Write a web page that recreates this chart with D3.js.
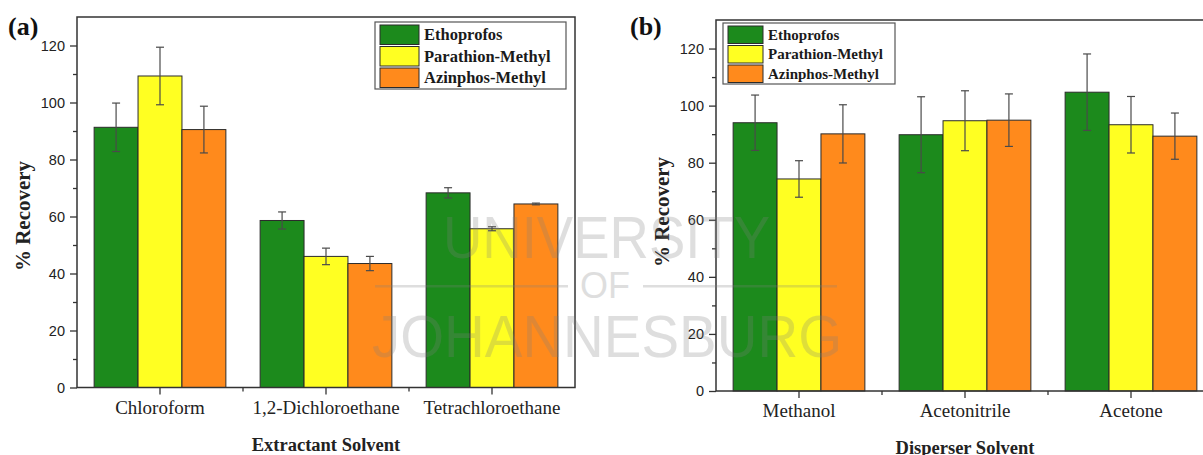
<!DOCTYPE html>
<html>
<head>
<meta charset="utf-8">
<script src="https://cdn.jsdelivr.net/npm/d3@7"></script>
<style>
  body { margin: 0; background: #fff; }
  svg { display: block; }
</style>
</head>
<body>
<div id="chart"></div>
<script>
const seriesNames = ["Ethoprofos", "Parathion-Methyl", "Azinphos-Methyl"];
const seriesColors = ["#1c8a1c", "#ffff22", "#ff8a1c"];

// panel (a)
const extractants = ["Chloroform", "1,2-Dichloroethane", "Tetrachloroethane"];
const extractantMeans = [
  [91.3, 58.6, 68.3],
  [109.3, 46.0, 55.7],
  [90.5, 43.5, 64.4]
];
const extractantErrors = [
  [8.5, 3.0, 1.8],
  [10.1, 2.9, 0.7],
  [8.2, 2.5, 0.3]
];

// panel (b)
const dispersers = ["Methanol", "Acetonitrile", "Acetone"];
const disperserMeans = [
  [94.0, 89.8, 104.7],
  [74.3, 94.7, 93.3],
  [90.1, 94.9, 89.3]
];
const disperserErrors = [
  [9.7, 13.3, 13.4],
  [6.4, 10.5, 9.9],
  [10.2, 9.2, 8.1]
];

const yMajor = [0, 20, 40, 60, 80, 100, 120];
const yMinor = [10, 30, 50, 70, 90, 110];

const svg = d3.select("#chart").append("svg")
  .attr("width", 1203)
  .attr("height", 455);

const serif = "'Liberation Serif', 'Times New Roman', serif";
const sans = "'Liberation Sans', Arial, sans-serif";

function drawPanel(p) {
  const g = svg.append("g");
  const x = d3.scaleBand().domain(p.categories).range([p.left, p.left + 498]);
  const x1 = d3.scaleBand().domain(seriesNames).range([0, x.bandwidth()]).paddingOuter(0.39);
  const y = d3.scaleLinear().domain([0, 130]).range([p.bottom, p.top]);

  // bars
  seriesNames.forEach((s, si) => {
    g.append("g").selectAll("rect")
      .data(p.categories)
      .join("rect")
      .attr("x", (c) => x(c) + x1(s))
      .attr("y", (c, i) => y(p.means[si][i]))
      .attr("width", x1.bandwidth())
      .attr("height", (c, i) => y(0) - y(p.means[si][i]))
      .attr("fill", seriesColors[si])
      .attr("stroke", "#2b2b2b")
      .attr("stroke-width", 1);
  });

  // error bars
  seriesNames.forEach((s, si) => {
    const eb = g.append("g").attr("stroke", "#4a4a4a").attr("stroke-width", 1.2);
    p.categories.forEach((c, i) => {
      const cx = x(c) + x1(s) + x1.bandwidth() / 2;
      const hi = y(p.means[si][i] + p.errors[si][i]);
      const lo = y(p.means[si][i] - p.errors[si][i]);
      eb.append("line").attr("x1", cx).attr("x2", cx).attr("y1", hi).attr("y2", lo);
      eb.append("line").attr("x1", cx - 4).attr("x2", cx + 4).attr("y1", hi).attr("y2", hi);
      eb.append("line").attr("x1", cx - 4).attr("x2", cx + 4).attr("y1", lo).attr("y2", lo);
    });
  });

  // frame
  g.append("rect")
    .attr("x", p.left).attr("y", p.top)
    .attr("width", 498).attr("height", p.bottom - p.top)
    .attr("fill", "none").attr("stroke", "#333").attr("stroke-width", 1.5);

  // y axis
  const yAxis = g.append("g")
    .attr("transform", `translate(${p.left},0)`)
    .call(d3.axisLeft(y).tickValues(yMajor).tickSize(7).tickPadding(5));
  g.append("g")
    .attr("transform", `translate(${p.left},0)`)
    .call(d3.axisLeft(y).tickValues(yMinor).tickSize(4).tickFormat(""))
    .call((a) => a.select(".domain").remove());
  yAxis.select(".domain").remove();
  g.selectAll(".tick line").attr("stroke", "#333").attr("stroke-width", 1.3);
  yAxis.selectAll("text").attr("font-family", sans).attr("font-size", 14.5).attr("fill", "#222");

  // x axis
  const xAxis = g.append("g")
    .attr("transform", `translate(0,${p.bottom})`)
    .call(d3.axisBottom(x).tickSize(7).tickPadding(6));
  xAxis.select(".domain").remove();
  xAxis.selectAll(".tick line").attr("stroke", "#333").attr("stroke-width", 1.3);
  xAxis.selectAll("text").attr("font-family", serif).attr("font-size", 19).attr("fill", "#222");
  g.append("g").selectAll("line")
    .data(p.categories.slice(1))
    .join("line")
    .attr("x1", (c) => x(c)).attr("x2", (c) => x(c))
    .attr("y1", p.bottom).attr("y2", p.bottom + 4)
    .attr("stroke", "#333").attr("stroke-width", 1.3);

  // titles
  g.append("text")
    .attr("x", p.left + 249).attr("y", p.bottom + 63)
    .attr("text-anchor", "middle")
    .attr("font-family", serif).attr("font-weight", "bold").attr("font-size", 18.5)
    .attr("fill", "#222")
    .text(p.xTitle);
  g.append("text")
    .attr("transform", `translate(${p.yTitleX},${p.yTitleY}) rotate(-90)`)
    .attr("text-anchor", "middle")
    .attr("dominant-baseline", "central")
    .attr("font-family", serif).attr("font-weight", "bold").attr("font-size", 21)
    .attr("fill", "#222")
    .text("% Recovery");
  g.append("text")
    .attr("x", p.labelX).attr("y", p.labelY)
    .attr("font-family", serif).attr("font-weight", "bold").attr("font-size", 26)
    .attr("fill", "#111")
    .text(p.label);

  // legend
  const L = p.legend;
  const lg = g.append("g");
  lg.append("rect")
    .attr("x", L.x).attr("y", L.y).attr("width", L.w).attr("height", L.h)
    .attr("fill", "#fff").attr("stroke", "#555").attr("stroke-width", 1.2);
  seriesNames.forEach((s, si) => {
    lg.append("rect")
      .attr("x", L.x + 5).attr("y", L.y + 3 + si * L.step)
      .attr("width", L.sw).attr("height", L.step - 2)
      .attr("fill", seriesColors[si]).attr("stroke", "#2b2b2b").attr("stroke-width", 1);
    lg.append("text")
      .attr("x", L.x + 10 + L.sw).attr("y", L.y + 3 + si * L.step + (L.step - 2) / 2)
      .attr("dominant-baseline", "central")
      .attr("font-family", serif).attr("font-weight", "bold").attr("font-size", L.fs)
      .attr("fill", "#1a1a1a")
      .text(s);
  });
}

drawPanel({
  categories: extractants, means: extractantMeans, errors: extractantErrors,
  left: 77, top: 17, bottom: 387.5,
  xTitle: "Extractant Solvent", yTitleX: 23, yTitleY: 216,
  label: "(a)", labelX: 8, labelY: 35,
  legend: { x: 375, y: 22, w: 191, h: 67, sw: 39, step: 21.5, fs: 16.5 }
});

drawPanel({
  categories: dispersers, means: disperserMeans, errors: disperserErrors,
  left: 716, top: 20, bottom: 391,
  xTitle: "Disperser Solvent", yTitleX: 662, yTitleY: 212,
  label: "(b)", labelX: 630, labelY: 35,
  legend: { x: 723, y: 23, w: 172, h: 61, sw: 35, step: 19.5, fs: 15 }
});

// watermark
const wm = svg.append("g")
  .attr("fill", "#808080").attr("opacity", 0.25)
  .attr("font-family", sans).attr("pointer-events", "none");
wm.append("text").attr("x", 443).attr("y", 258)
  .attr("font-size", 60).attr("textLength", 327).attr("lengthAdjust", "spacingAndGlyphs")
  .text("UNIVERSITY");
wm.append("text").attr("x", 580).attr("y", 298)
  .attr("font-size", 37).attr("textLength", 50).attr("lengthAdjust", "spacingAndGlyphs")
  .text("OF");
wm.append("text").attr("x", 372).attr("y", 357)
  .attr("font-size", 59).attr("textLength", 470).attr("lengthAdjust", "spacingAndGlyphs")
  .text("JOHANNESBURG");
wm.append("rect").attr("x", 375).attr("y", 285).attr("width", 193).attr("height", 2.5);
wm.append("rect").attr("x", 643).attr("y", 285).attr("width", 194).attr("height", 2.5);
</script>
</body>
</html>
